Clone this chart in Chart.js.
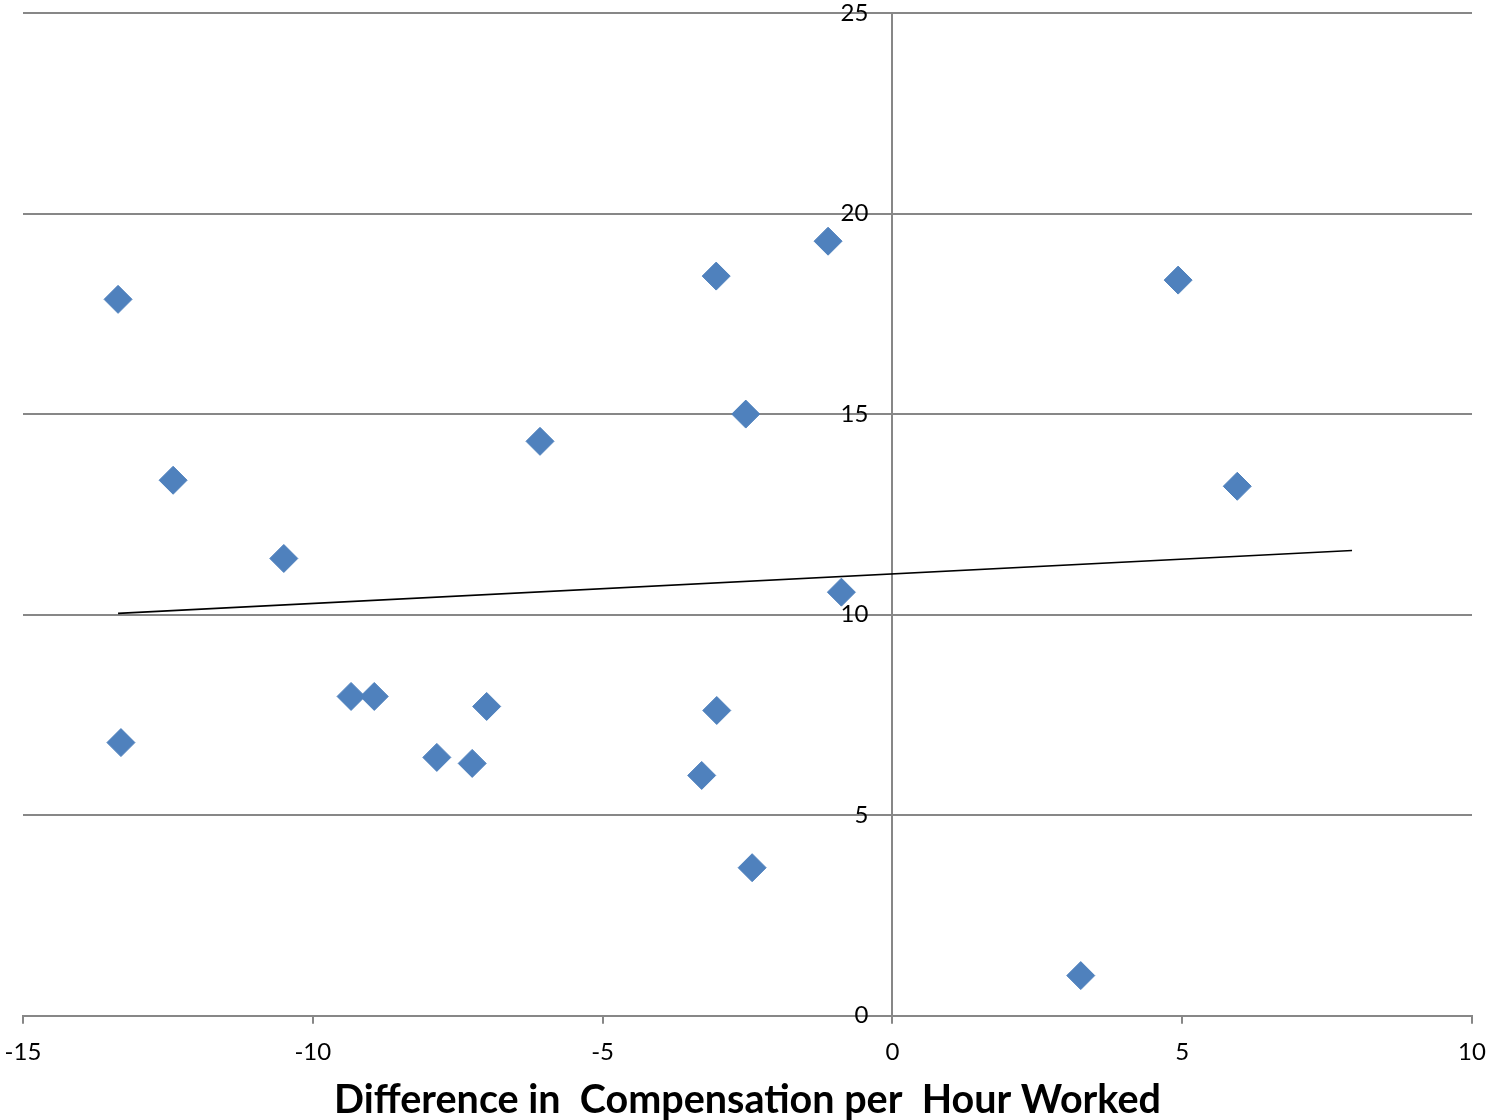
<!DOCTYPE html>
<html>
<head>
<meta charset="utf-8">
<script src="https://cdn.jsdelivr.net/npm/chart.js@4.4.1/dist/chart.umd.min.js"></script>
<style>
  html, body { margin: 0; padding: 0; background: #fff; }
</style>
</head>
<body>
<canvas id="chart" width="1488" height="1120"></canvas>
<script>
// --- data ---
const compDiff = [-13.36, -12.41, -10.50, -13.31, -9.34, -8.94, -7.86, -7.25, -7.00, -6.08,
                  -3.29, -3.04, -3.03, -2.53, -2.42, -1.11, -0.88, 3.25, 4.93, 5.95];
const yValues  = [17.86, 13.35, 11.40, 6.81, 7.96, 7.96, 6.44, 6.29, 7.71, 14.32,
                  5.99, 18.44, 7.61, 15.00, 3.69, 19.31, 10.56, 1.00, 18.34, 13.20];

// linear trendline end points
const trendX = [-13.36, 7.93];
const trendY = [10.03, 11.60];

const xRange = [-15, 10];
const yRange = [0, 25];
const tickStep = 5;

const xTitle = "Difference in  Compensation per  Hour Worked";

// --- styling ---
const gridGray = "#878787";
const markerBlue = "#4F81BD";
const fontFamily = "Lato, 'Open Sans', sans-serif";

const points = compDiff.map((x, i) => ({ x: x, y: yValues[i] }));
const trend = trendX.map((x, i) => ({ x: x, y: trendY[i] }));

// big markers would otherwise push the plot area down; layout padding handles it
Chart.registry.getController("scatter").prototype.getMaxOverflow = () => 0;
Chart.registry.getController("line").prototype.getMaxOverflow = () => 0;

new Chart(document.getElementById("chart").getContext("2d"), {
  type: "scatter",
  data: {
    datasets: [
      {
        label: "data",
        data: points,
        pointStyle: "rectRot",
        pointRadius: 14,
        pointHoverRadius: 14,
        backgroundColor: markerBlue,
        borderColor: markerBlue,
        borderWidth: 1,
        order: 1
      },
      {
        label: "trend",
        type: "line",
        data: trend,
        borderColor: "#000",
        borderWidth: 1.6,
        pointRadius: 0,
        fill: false,
        tension: 0,
        order: 0
      }
    ]
  },
  options: {
    responsive: false,
    animation: false,
    layout: { padding: { left: 23, right: 16, top: 13, bottom: 0 } },
    plugins: {
      legend: { display: false },
      tooltip: { enabled: false }
    },
    scales: {
      x: {
        type: "linear",
        position: "bottom",
        min: xRange[0],
        max: xRange[1],
        afterFit: (s) => { s.paddingLeft = 0; s.paddingRight = 0; },
        ticks: {
          stepSize: tickStep,
          color: "#000",
          font: { family: fontFamily, size: 24 },
          padding: 14,
          maxRotation: 0
        },
        grid: {
          drawOnChartArea: false,
          drawTicks: true,
          tickLength: 8,
          color: gridGray,
          lineWidth: 2
        },
        border: { color: gridGray, width: 2 },
        title: {
          display: true,
          text: xTitle,
          color: "#000",
          font: { family: fontFamily, size: 39.5, weight: "bold", lineHeight: 1.0 },
          padding: { top: 0, bottom: 0 }
        }
      },
      y: {
        type: "linear",
        position: { x: 0 },
        min: yRange[0],
        max: yRange[1],
        afterFit: (s) => { s.paddingTop = 0; s.paddingBottom = 0; },
        ticks: {
          stepSize: tickStep,
          color: "#000",
          font: { family: fontFamily, size: 24, lineHeight: 1.0 },
          // labels sit a little left of the centred axis line
          callback: (v) => v + "\u2003\u2005"
        },
        grid: {
          drawTicks: false,
          color: gridGray,
          lineWidth: 2
        },
        border: { color: gridGray, width: 2 }
      }
    }
  }
});
</script>
</body>
</html>
